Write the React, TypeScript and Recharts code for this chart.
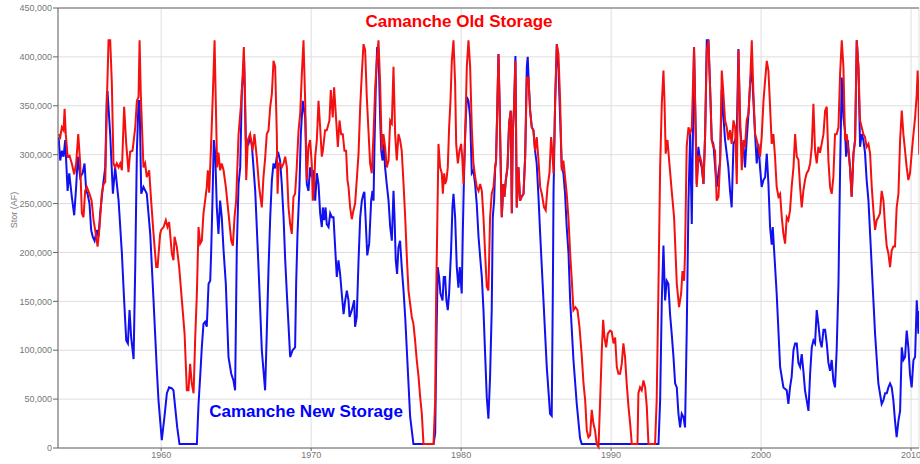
import React from "react";
import {
  LineChart,
  Line,
  XAxis,
  YAxis,
  CartesianGrid,
  ReferenceLine,
} from "recharts";

// storage values in thousand acre-feet
const oldYears = [
  1953.16, 1953.27, 1953.38, 1953.49, 1953.56, 1953.64, 1953.76, 1953.89, 1954.04, 1954.2,
  1954.33, 1954.47, 1954.6, 1954.71, 1954.82, 1954.93, 1955.04, 1955.22, 1955.36, 1955.49,
  1955.64, 1955.76, 1955.89, 1956.04, 1956.16, 1956.27, 1956.38, 1956.49, 1956.6, 1956.71,
  1956.82, 1956.93, 1957.04, 1957.16, 1957.27, 1957.38, 1957.53, 1957.67, 1957.82, 1957.93,
  1958.09, 1958.27, 1958.38, 1958.49, 1958.56, 1958.64, 1958.82, 1958.93, 1959.04, 1959.2,
  1959.33, 1959.49, 1959.67, 1959.76, 1959.93, 1960.0, 1960.16, 1960.31, 1960.42, 1960.53,
  1960.71, 1960.82, 1960.89, 1961.04, 1961.2, 1961.38, 1961.56, 1961.71, 1961.82, 1961.93,
  1962.04, 1962.16, 1962.27, 1962.38, 1962.49, 1962.6, 1962.71, 1962.82, 1962.93, 1963.04,
  1963.11, 1963.2, 1963.33, 1963.47, 1963.56, 1963.64, 1963.73, 1963.82, 1963.93, 1964.04,
  1964.16, 1964.31, 1964.49, 1964.67, 1964.78, 1964.89, 1965.0, 1965.16, 1965.31, 1965.42,
  1965.51, 1965.6, 1965.67, 1965.78, 1965.93, 1966.09, 1966.22, 1966.38, 1966.53, 1966.71,
  1966.82, 1966.93, 1967.04, 1967.16, 1967.27, 1967.38, 1967.49, 1967.6, 1967.71, 1967.76,
  1967.84, 1967.93, 1968.04, 1968.16, 1968.27, 1968.38, 1968.49, 1968.6, 1968.71, 1968.82,
  1968.93, 1969.04, 1969.16, 1969.27, 1969.38, 1969.49, 1969.6, 1969.71, 1969.82, 1969.93,
  1970.04, 1970.11, 1970.2, 1970.27, 1970.38, 1970.49, 1970.6, 1970.71, 1970.78, 1970.93,
  1971.04, 1971.22, 1971.31, 1971.44, 1971.53, 1971.67, 1971.78, 1971.89, 1972.0, 1972.11,
  1972.22, 1972.33, 1972.42, 1972.49, 1972.6, 1972.71, 1972.82, 1972.93, 1973.04, 1973.16,
  1973.27, 1973.38, 1973.49, 1973.6, 1973.71, 1973.82, 1973.93, 1974.04, 1974.16, 1974.27,
  1974.38, 1974.49, 1974.6, 1974.71, 1974.82, 1974.93, 1975.04, 1975.16, 1975.27, 1975.38,
  1975.49, 1975.6, 1975.71, 1975.82, 1975.93, 1976.04, 1976.16, 1976.27, 1976.38, 1976.49,
  1976.71, 1976.82, 1976.93, 1977.04, 1977.16, 1977.27, 1977.38, 1977.49, 1978.16, 1978.27,
  1978.33, 1978.4, 1978.49, 1978.6, 1978.71, 1978.78, 1978.87, 1978.93, 1979.02, 1979.11,
  1979.2, 1979.29, 1979.38, 1979.49, 1979.6, 1979.67, 1979.78, 1979.89, 1980.0, 1980.09,
  1980.16, 1980.27, 1980.38, 1980.49, 1980.6, 1980.71, 1980.82, 1980.93, 1981.04, 1981.16,
  1981.27, 1981.38, 1981.49, 1981.6, 1981.71, 1981.82, 1981.93, 1982.04, 1982.16, 1982.27,
  1982.33, 1982.42, 1982.49, 1982.56, 1982.64, 1982.71, 1982.82, 1982.89, 1982.98, 1983.09,
  1983.2, 1983.31, 1983.38, 1983.44, 1983.53, 1983.62, 1983.71, 1983.82, 1983.93, 1984.04,
  1984.16, 1984.27, 1984.38, 1984.49, 1984.6, 1984.71, 1984.82, 1984.93, 1985.04, 1985.16,
  1985.27, 1985.38, 1985.53, 1985.64, 1985.76, 1985.89, 1986.0, 1986.09, 1986.16, 1986.27,
  1986.38, 1986.49, 1986.6, 1986.71, 1986.82, 1986.93, 1987.04, 1987.16, 1987.27, 1987.38,
  1987.49, 1987.62, 1987.76, 1987.89, 1988.04, 1988.16, 1988.27, 1988.38, 1988.49, 1988.6,
  1988.71, 1988.82, 1988.93, 1989.04, 1989.16, 1989.27, 1989.38, 1989.47, 1989.56, 1989.67,
  1989.78, 1989.93, 1990.04, 1990.16, 1990.27, 1990.38, 1990.49, 1990.6, 1990.71, 1990.82,
  1990.93, 1991.04, 1991.16, 1991.27, 1991.38, 1991.76, 1991.82, 1991.93, 1992.04, 1992.16,
  1992.27, 1992.38, 1992.49, 1992.93, 1993.04, 1993.16, 1993.27, 1993.38, 1993.49, 1993.56,
  1993.64, 1993.76, 1993.87, 1994.04, 1994.2, 1994.38, 1994.53, 1994.67, 1994.76, 1994.87,
  1994.93, 1995.04, 1995.16, 1995.27, 1995.38, 1995.53, 1995.6, 1995.71, 1995.82, 1995.93,
  1996.04, 1996.16, 1996.27, 1996.38, 1996.49, 1996.6, 1996.71, 1996.82, 1996.93, 1997.04,
  1997.16, 1997.27, 1997.38, 1997.49, 1997.6, 1997.71, 1997.82, 1997.93, 1998.04, 1998.16,
  1998.27, 1998.38, 1998.49, 1998.6, 1998.71, 1998.82, 1998.93, 1999.04, 1999.16, 1999.27,
  1999.38, 1999.49, 1999.6, 1999.71, 1999.82, 1999.93, 2000.04, 2000.16, 2000.27, 2000.38,
  2000.49, 2000.6, 2000.71, 2000.82, 2000.93, 2001.04, 2001.16, 2001.27, 2001.38, 2001.49,
  2001.6, 2001.71, 2001.82, 2001.93, 2002.04, 2002.16, 2002.27, 2002.38, 2002.49, 2002.6,
  2002.71, 2002.82, 2002.93, 2003.04, 2003.16, 2003.27, 2003.38, 2003.49, 2003.6, 2003.71,
  2003.82, 2003.93, 2004.04, 2004.16, 2004.27, 2004.38, 2004.49, 2004.6, 2004.71, 2004.82,
  2004.93, 2005.04, 2005.16, 2005.27, 2005.38, 2005.49, 2005.6, 2005.71, 2005.82, 2005.93,
  2006.04, 2006.16, 2006.27, 2006.38, 2006.49, 2006.6, 2006.71, 2006.82, 2006.93, 2007.04,
  2007.16, 2007.27, 2007.38, 2007.49, 2007.6, 2007.71, 2007.82, 2007.93, 2008.04, 2008.16,
  2008.27, 2008.38, 2008.49, 2008.6, 2008.71, 2008.82, 2008.93, 2009.04, 2009.16, 2009.27,
  2009.38, 2009.49, 2009.6, 2009.71, 2009.82, 2009.93, 2010.04, 2010.16, 2010.27, 2010.38,
  2010.44, 2010.49, 2010.55,
];
const oldStorage = [
  321, 318, 328, 325, 347, 321, 298, 299, 291, 280,
  291, 321, 291, 240, 236, 263, 267, 260, 253, 233,
  219, 206, 226, 260, 270, 272, 355, 417, 417, 373,
  291, 287, 291, 287, 291, 284, 349, 311, 282, 303,
  304, 328, 355, 359, 417, 362, 287, 291, 277, 284,
  253, 219, 185, 185, 219, 223, 226, 233, 226, 231,
  199, 192, 216, 206, 185, 151, 117, 59, 59, 86,
  66, 56, 113, 158, 226, 209, 212, 240, 253, 267,
  284, 261, 311, 373, 417, 355, 287, 302, 284, 291,
  284, 267, 240, 212, 207, 236, 253, 321, 349, 376,
  410, 355, 274, 315, 321, 304, 321, 296, 267, 246,
  277, 296, 321, 325, 349, 362, 396, 390, 321, 260,
  291, 291, 287, 291, 298, 287, 246, 229, 219, 257,
  260, 287, 325, 342, 383, 417, 355, 274, 308, 315,
  291, 253, 267, 298, 315, 355, 328, 298, 304, 325,
  325, 335, 366, 338, 369, 335, 308, 335, 321, 321,
  304, 304, 274, 267, 246, 234, 243, 250, 274, 301,
  349, 383, 413, 407, 359, 325, 291, 281, 321, 369,
  396, 417, 373, 304, 321, 308, 287, 294, 335, 332,
  390, 321, 294, 321, 315, 304, 270, 236, 195, 161,
  134, 127, 110, 90, 73, 52, 35, 4, 4, 49,
  151, 219, 311, 287, 281, 260, 281, 270, 274, 287,
  328, 355, 396, 417, 373, 311, 291, 304, 311, 294,
  270, 321, 390, 417, 390, 328, 291, 278, 267, 263,
  270, 263, 236, 199, 165, 161, 236, 260, 267, 287,
  294, 355, 403, 355, 287, 236, 270, 257, 274, 287,
  332, 345, 240, 321, 349, 396, 246, 287, 253, 257,
  260, 298, 379, 379, 345, 328, 325, 304, 318, 294,
  267, 260, 246, 243, 267, 281, 318, 301, 281, 355,
  413, 403, 355, 284, 294, 277, 260, 234, 199, 171,
  141, 144, 141, 124, 95, 66, 49, 18, 11, 13,
  39, 25, 18, 4, 1, 49, 100, 131, 113, 103,
  117, 120, 119, 107, 113, 83, 76, 76, 86, 107,
  93, 66, 42, 25, 4, 4, 56, 62, 59, 69,
  62, 42, 4, 4, 49, 168, 287, 352, 386, 355,
  301, 315, 294, 263, 236, 168, 144, 158, 181, 171,
  200, 308, 328, 321, 328, 410, 355, 267, 298, 298,
  291, 270, 321, 407, 417, 369, 315, 308, 304, 253,
  257, 294, 386, 362, 335, 328, 315, 325, 311, 335,
  328, 270, 407, 338, 284, 315, 308, 335, 342, 373,
  417, 362, 321, 315, 308, 298, 318, 355, 376, 396,
  386, 349, 311, 321, 298, 267, 257, 260, 236, 219,
  209, 236, 233, 243, 267, 287, 321, 298, 295, 267,
  246, 263, 274, 281, 284, 291, 308, 352, 304, 291,
  308, 302, 311, 321, 345, 349, 294, 267, 260, 277,
  321, 321, 328, 383, 417, 390, 315, 321, 304, 287,
  257, 301, 315, 417, 390, 335, 328, 321, 318, 308,
  311, 301, 267, 243, 223, 233, 236, 240, 263, 253,
  226, 206, 199, 185, 202, 206, 206, 246, 260, 315,
  345, 321, 304, 287, 274, 281, 301, 321, 338, 362,
  386, 362, 300,
];

const newYears = [
  1953.16, 1953.27, 1953.38, 1953.49, 1953.6, 1953.76, 1953.87, 1954.04, 1954.2, 1954.33,
  1954.44, 1954.6, 1954.76, 1954.89, 1955.0, 1955.09, 1955.22, 1955.33, 1955.44, 1955.56,
  1955.71, 1955.82, 1955.93, 1956.11, 1956.27, 1956.38, 1956.42, 1956.6, 1956.78, 1956.93,
  1957.16, 1957.38, 1957.53, 1957.67, 1957.78, 1957.89, 1958.0, 1958.16, 1958.27, 1958.38,
  1958.49, 1958.56, 1958.67, 1958.82, 1959.04, 1959.27, 1959.49, 1959.71, 1959.82, 1960.04,
  1960.22, 1960.38, 1960.53, 1960.71, 1960.82, 1960.93, 1961.07, 1961.22, 1962.38, 1962.49,
  1962.6, 1962.71, 1962.82, 1962.93, 1963.04, 1963.16, 1963.27, 1963.33, 1963.42, 1963.51,
  1963.6, 1963.71, 1963.82, 1963.93, 1964.04, 1964.16, 1964.31, 1964.49, 1964.67, 1964.82,
  1964.93, 1965.0, 1965.04, 1965.16, 1965.27, 1965.38, 1965.53, 1965.64, 1965.82, 1965.93,
  1966.04, 1966.27, 1966.49, 1966.71, 1966.93, 1967.04, 1967.16, 1967.27, 1967.38, 1967.49,
  1967.6, 1967.71, 1967.82, 1967.93, 1968.04, 1968.16, 1968.27, 1968.38, 1968.6, 1968.76,
  1968.93, 1969.0, 1969.09, 1969.22, 1969.31, 1969.44, 1969.6, 1969.71, 1969.82, 1969.93,
  1970.04, 1970.16, 1970.27, 1970.38, 1970.49, 1970.6, 1970.71, 1970.78, 1970.87, 1970.96,
  1971.04, 1971.16, 1971.27, 1971.38, 1971.49, 1971.6, 1971.71, 1971.82, 1971.93, 1972.04,
  1972.16, 1972.27, 1972.38, 1972.49, 1972.56, 1972.71, 1972.87, 1972.93, 1973.04, 1973.16,
  1973.27, 1973.38, 1973.49, 1973.55, 1973.74, 1973.87, 1974.0, 1974.09, 1974.16, 1974.22,
  1974.31, 1974.4, 1974.49, 1974.6, 1974.67, 1974.76, 1974.84, 1974.93, 1975.04, 1975.16,
  1975.27, 1975.38, 1975.49, 1975.56, 1975.64, 1975.73, 1975.82, 1975.93, 1976.04, 1976.16,
  1976.27, 1976.38, 1976.49, 1976.6, 1976.71, 1976.82, 1978.16, 1978.27, 1978.36, 1978.44,
  1978.53, 1978.62, 1978.76, 1978.84, 1978.93, 1979.02, 1979.11, 1979.2, 1979.33, 1979.42,
  1979.49, 1979.6, 1979.71, 1979.82, 1979.91, 1980.04, 1980.11, 1980.18, 1980.27, 1980.38,
  1980.49, 1980.6, 1980.71, 1980.82, 1980.93, 1981.04, 1981.16, 1981.27, 1981.38, 1981.49,
  1981.6, 1981.71, 1981.82, 1981.93, 1982.04, 1982.11, 1982.2, 1982.27, 1982.33, 1982.42,
  1982.49, 1982.56, 1982.64, 1982.71, 1982.82, 1982.89, 1982.98, 1983.09, 1983.2, 1983.31,
  1983.38, 1983.44, 1983.53, 1983.62, 1983.71, 1983.82, 1983.93, 1984.04, 1984.16, 1984.27,
  1984.38, 1984.44, 1984.52, 1984.6, 1984.71, 1984.82, 1984.93, 1985.04, 1985.16, 1985.27,
  1985.49, 1985.71, 1985.93, 1986.04, 1986.11, 1986.16, 1986.27, 1986.38, 1986.49, 1986.6,
  1986.71, 1986.82, 1986.93, 1987.04, 1987.16, 1987.27, 1987.49, 1987.71, 1987.93, 1988.04,
  1993.16, 1993.27, 1993.38, 1993.49, 1993.6, 1993.71, 1993.82, 1993.93, 1994.04, 1994.16,
  1994.27, 1994.38, 1994.49, 1994.6, 1994.71, 1994.82, 1994.93, 1995.04, 1995.16, 1995.27,
  1995.38, 1995.53, 1995.6, 1995.71, 1995.82, 1995.93, 1996.04, 1996.16, 1996.27, 1996.38,
  1996.49, 1996.6, 1996.71, 1996.82, 1997.04, 1997.27, 1997.38, 1997.49, 1997.6, 1997.71,
  1997.82, 1997.93, 1998.04, 1998.16, 1998.27, 1998.38, 1998.49, 1998.6, 1998.71, 1998.82,
  1998.93, 1999.04, 1999.16, 1999.27, 1999.38, 1999.49, 1999.6, 1999.71, 1999.82, 1999.93,
  2000.04, 2000.16, 2000.27, 2000.38, 2000.49, 2000.6, 2000.71, 2000.78, 2000.87, 2001.04,
  2001.27, 2001.49, 2001.71, 2001.82, 2001.93, 2002.04, 2002.16, 2002.27, 2002.38, 2002.49,
  2002.6, 2002.71, 2002.82, 2002.93, 2003.04, 2003.16, 2003.27, 2003.38, 2003.49, 2003.6,
  2003.71, 2003.82, 2003.93, 2004.04, 2004.16, 2004.27, 2004.38, 2004.49, 2004.6, 2004.71,
  2004.82, 2004.93, 2005.04, 2005.16, 2005.27, 2005.38, 2005.49, 2005.6, 2005.67, 2005.78,
  2005.93, 2006.04, 2006.16, 2006.27, 2006.38, 2006.49, 2006.6, 2006.71, 2006.82, 2006.93,
  2007.04, 2007.16, 2007.27, 2007.38, 2007.49, 2007.6, 2007.82, 2008.04, 2008.16, 2008.27,
  2008.38, 2008.49, 2008.6, 2008.71, 2008.82, 2008.93, 2009.04, 2009.16, 2009.27, 2009.38,
  2009.49, 2009.6, 2009.71, 2009.82, 2009.93, 2010.04, 2010.16, 2010.27, 2010.38, 2010.49,
  2010.55,
];
const newStorage = [
  318, 294, 304, 298, 315, 263, 281, 257, 238, 267,
  298, 277, 281, 291, 263, 260, 250, 223, 216, 212,
  223, 216, 240, 267, 287, 362, 365, 321, 260, 287,
  253, 199, 151, 110, 107, 141, 113, 91, 185, 304,
  355, 355, 260, 267, 260, 219, 151, 80, 49, 8,
  32, 56, 62, 61, 59, 42, 21, 4, 4, 45,
  73, 103, 127, 129, 124, 168, 171, 199, 253, 315,
  302, 246, 219, 253, 236, 202, 168, 93, 76, 69,
  59, 151, 202, 270, 287, 366, 396, 315, 311, 318,
  311, 263, 185, 100, 59, 117, 185, 236, 274, 291,
  286, 298, 301, 294, 270, 236, 192, 158, 93, 100,
  103, 168, 219, 267, 321, 355, 338, 270, 263, 287,
  277, 284, 253, 281, 270, 240, 226, 246, 233, 246,
  229, 226, 240, 236, 236, 205, 175, 192, 178, 158,
  137, 151, 161, 151, 134, 141, 151, 124, 134, 192,
  236, 253, 260, 262, 197, 209, 253, 263, 253, 308,
  369, 410, 407, 338, 304, 294, 311, 287, 270, 253,
  226, 212, 263, 236, 192, 178, 205, 212, 185, 161,
  134, 100, 66, 32, 18, 4, 4, 15, 117, 185,
  175, 158, 151, 175, 175, 151, 141, 158, 202, 246,
  260, 236, 185, 164, 185, 158, 219, 270, 321, 359,
  355, 338, 281, 284, 270, 250, 216, 195, 175, 141,
  96, 52, 30, 73, 141, 236, 253, 287, 294, 355,
  403, 355, 287, 236, 270, 257, 274, 287, 332, 345,
  240, 321, 349, 401, 246, 287, 253, 257, 260, 298,
  390, 400, 370, 345, 328, 325, 304, 291, 256, 219,
  151, 83, 35, 33, 151, 260, 355, 413, 389, 338,
  287, 281, 260, 226, 199, 151, 90, 45, 10, 4,
  4, 49, 151, 207, 151, 171, 168, 137, 117, 93,
  66, 62, 35, 21, 35, 32, 21, 117, 253, 321,
  229, 410, 355, 270, 308, 294, 287, 270, 321, 417,
  417, 369, 315, 311, 267, 294, 366, 338, 315, 301,
  287, 263, 246, 311, 315, 321, 408, 328, 308, 311,
  287, 315, 342, 373, 389, 355, 321, 291, 311, 287,
  267, 274, 277, 301, 270, 226, 208, 226, 202, 158,
  83, 62, 59, 45, 62, 73, 100, 107, 107, 87,
  83, 96, 79, 59, 49, 38, 76, 103, 110, 107,
  141, 127, 110, 103, 121, 121, 107, 87, 79, 90,
  69, 62, 100, 168, 287, 379, 338, 324, 298, 315,
  287, 257, 301, 315, 417, 390, 308, 321, 315, 302,
  274, 253, 219, 185, 151, 117, 66, 45, 49, 56,
  56, 62, 66, 62, 49, 28, 11, 28, 38, 103,
  90, 93, 120, 103, 75, 62, 90, 93, 151, 117,
  140,
];

const yearTicks = [1960, 1970, 1980, 1990, 2000, 2010];
const storageTicks = [0, 50000, 100000, 150000, 200000, 250000, 300000, 350000, 400000, 450000];

const oldData = oldYears.map((year, i) => ({ year, value: oldStorage[i] * 1000 }));
const newData = newYears.map((year, i) => ({ year, value: newStorage[i] * 1000 }));

const font = "'Liberation Sans', Arial, sans-serif";

export default function App() {
  return (
    <div style={{ position: "absolute", left: 0, top: 0, width: 920, height: 464, background: "#fff" }}>
      <LineChart width={920} height={464} margin={{ top: 8, right: 1, bottom: 0, left: 0 }}>
        <CartesianGrid stroke="#dedede" />
        <XAxis
          dataKey="year"
          type="number"
          domain={[1953.12, 2010.53]}
          ticks={yearTicks}
          allowDataOverflow
          height={16}
          tickSize={3}
          tickMargin={1}
          stroke="#666"
          tick={{ fontSize: 9, fill: "#777", fontFamily: font }}
        />
        <YAxis
          type="number"
          domain={[0, 450000]}
          ticks={storageTicks}
          width={58}
          tickSize={5}
          tickMargin={1}
          stroke="#666"
          tick={{ fontSize: 9, fill: "#777", fontFamily: font }}
          tickFormatter={(v: number) => v.toLocaleString("en-US")}
        />
        <ReferenceLine y={450000} stroke="#aaa" strokeWidth={2} />
        <Line
          data={newData}
          dataKey="value"
          type="linear"
          stroke="#1010f0"
          strokeWidth={2}
          dot={false}
          isAnimationActive={false}
        />
        <Line
          data={oldData}
          dataKey="value"
          type="linear"
          stroke="#f51010"
          strokeWidth={2}
          dot={false}
          isAnimationActive={false}
        />
      </LineChart>
      <svg
        width={920}
        height={464}
        style={{ position: "absolute", left: 0, top: 0, pointerEvents: "none" }}
      >
        <text x={459} y={26.5} textAnchor="middle" fontFamily={font} fontWeight="bold" fontSize={17} fill="#ff0000">
          Camanche Old Storage
        </text>
        <text x={306} y={416.5} textAnchor="middle" fontFamily={font} fontWeight="bold" fontSize={17} fill="#0000ff">
          Camanche New Storage
        </text>
        <text
          x={17}
          y={210}
          textAnchor="middle"
          fontFamily={font}
          fontSize={9}
          fill="#777"
          transform="rotate(-90, 17, 210)"
        >
          Stor (AF)
        </text>
      </svg>
    </div>
  );
}
